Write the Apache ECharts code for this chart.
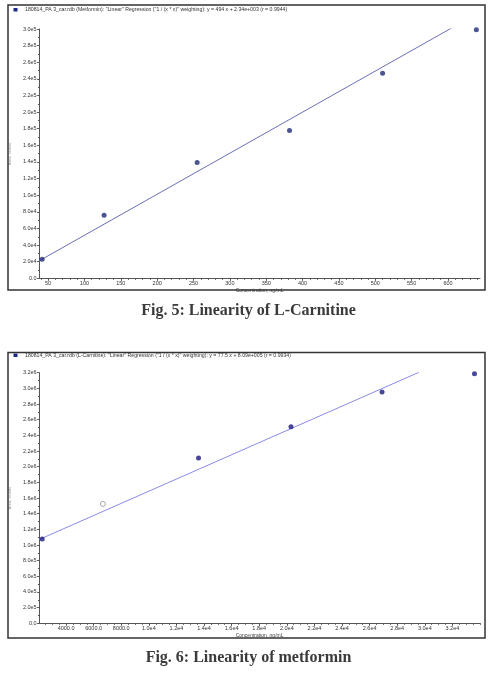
<!DOCTYPE html>
<html>
<head>
<meta charset="utf-8">
<script src="https://cdn.jsdelivr.net/npm/echarts@6/dist/echarts.min.js"></script>
<style>
html,body{margin:0;padding:0;background:#fff;}
#c{width:491px;height:675px;}
</style>
</head>
<body>
<div id="c"></div>
<script>
// ---- data: Fig. 5 (L-Carnitine) ----
var carnConc = [41.8, 127, 255, 382, 510, 639];
var carnArea = [23000, 76000, 139500, 178000, 246700, 299000];
var carnLineX = [37.7, 605.5];
var carnLineY = [21000, 301500];
var carnXTicks = [50, 100, 150, 200, 250, 300, 350, 400, 450, 500, 550, 600];

// ---- data: Fig. 6 (metformin) ----
var metConc = [2270, 6670, 13600, 20300, 26900, 33600];
var metArea = [1077000, 1524000, 2110000, 2510000, 2954000, 3188000];
var metExcluded = [false, true, false, false, false, false];
var metLineX = [2050, 29570];
var metLineY = [1070000, 3205000];
var metXTicks = [4000, 6000, 8000, 10000, 12000, 14000, 16000, 18000, 20000, 22000, 24000, 26000, 28000, 30000, 32000];

var header1 = '180814_PA 3_car.rdb (Metformin): "Linear" Regression ("1 / (x * x)" weighting): y = 494 x + 2.34e+003 (r = 0.9944)';
var header2 = '180814_PA 3_car.rdb (L-Carnitine): "Linear" Regression ("1 / (x * x)" weighting): y = 77.5 x + 8.09e+005 (r = 0.9934)';
var caption1 = 'Fig. 5: Linearity of L-Carnitine';
var caption2 = 'Fig. 6: Linearity of metformin';

function sci(v){
  if (v === 0) return '0.0';
  var e = Math.floor(Math.log10(Math.abs(v)) + 1e-9);
  var m = v / Math.pow(10, e);
  return m.toFixed(1) + 'e' + e;
}
function minorTicks(a, b, step){
  var out = [];
  for (var v = Math.ceil(a/step)*step; v <= b; v += step) out.push(v);
  return out;
}

var axisCol = '#555';
var labelStyle = {fontSize: 5.5, color: '#333', fontFamily: 'Liberation Sans, Arial'};

var chart = echarts.init(document.getElementById('c'), null, {renderer: 'canvas'});

var carnMin = 37.7, carnMax = 644;
var metMin = 2050, metMax = 34000;

var option = {
  animation: false,
  backgroundColor: '#fff',
  grid: [
    {left: 38, top: 29, width: 442, height: 249.3},
    {left: 38, top: 372.7, width: 442, height: 250.6}
  ],
  xAxis: [
    {
      type: 'value', gridIndex: 0, min: carnMin, max: carnMax,
      name: 'Concentration, ng/mL', nameLocation: 'middle', nameGap: 7,
      nameTextStyle: {fontSize: 5, color: '#444'},
      axisLine: {show: true, lineStyle: {color: axisCol, width: 1}},
      axisTick: {show: true, inside: false, length: 2.5, customValues: carnXTicks, lineStyle: {color: axisCol}},
      axisLabel: Object.assign({margin: 2.5, customValues: carnXTicks, formatter: function(v){return String(v);}}, labelStyle),
      splitLine: {show: false}
    },
    {
      type: 'value', gridIndex: 0, min: carnMin, max: carnMax, position: 'bottom',
      axisLine: {show: false},
      axisTick: {show: true, length: 1.5, customValues: minorTicks(carnMin, carnMax, 10), lineStyle: {color: axisCol}},
      axisLabel: {show: false}, splitLine: {show: false}
    },
    {
      type: 'value', gridIndex: 1, min: metMin, max: metMax,
      name: 'Concentration, ng/mL', nameLocation: 'middle', nameGap: 7,
      nameTextStyle: {fontSize: 5, color: '#444'},
      axisLine: {show: true, lineStyle: {color: axisCol, width: 1}},
      axisTick: {show: true, inside: false, length: 2.5, customValues: metXTicks, lineStyle: {color: axisCol}},
      axisLabel: Object.assign({margin: 2.5, customValues: metXTicks, formatter: function(v){return v < 10000 ? v.toFixed(1) : sci(v);}}, labelStyle),
      splitLine: {show: false}
    },
    {
      type: 'value', gridIndex: 1, min: metMin, max: metMax, position: 'bottom',
      axisLine: {show: false},
      axisTick: {show: true, length: 1.5, customValues: minorTicks(metMin, metMax, 500), lineStyle: {color: axisCol}},
      axisLabel: {show: false}, splitLine: {show: false}
    }
  ],
  yAxis: [
    {
      type: 'value', gridIndex: 0, min: 0, max: 300000, interval: 20000,
      name: 'Area, counts', nameLocation: 'middle', nameGap: 25, nameRotate: 90,
      nameTextStyle: {fontSize: 4, color: '#999'},
      axisLine: {show: true, lineStyle: {color: axisCol, width: 1}},
      axisTick: {show: true, length: 2, lineStyle: {color: axisCol}},
      minorTick: {show: true, splitNumber: 2, length: 1.2, lineStyle: {color: axisCol}},
      axisLabel: Object.assign({margin: 2.5, formatter: sci}, labelStyle),
      splitLine: {show: false}
    },
    {
      type: 'value', gridIndex: 1, min: 0, max: 3200000, interval: 200000,
      name: 'Area, counts', nameLocation: 'middle', nameGap: 25, nameRotate: 90,
      nameTextStyle: {fontSize: 4, color: '#999'},
      axisLine: {show: true, lineStyle: {color: axisCol, width: 1}},
      axisTick: {show: true, length: 2, lineStyle: {color: axisCol}},
      minorTick: {show: true, splitNumber: 2, length: 1.2, lineStyle: {color: axisCol}},
      axisLabel: Object.assign({margin: 2.5, formatter: sci}, labelStyle),
      splitLine: {show: false}
    }
  ],
  series: [
    {
      type: 'line', xAxisIndex: 0, yAxisIndex: 0, symbol: 'none',
      data: carnLineX.map(function(x, i){return [x, carnLineY[i]];}),
      lineStyle: {color: '#6a6fb5', width: 1}, silent: true, z: 2
    },
    {
      type: 'scatter', xAxisIndex: 0, yAxisIndex: 0, symbolSize: 5,
      data: carnConc.map(function(x, i){return [x, carnArea[i]];}),
      itemStyle: {color: '#1f2a78'}, z: 3
    },
    {
      type: 'line', xAxisIndex: 2, yAxisIndex: 1, symbol: 'none',
      data: metLineX.map(function(x, i){return [x, metLineY[i]];}),
      lineStyle: {color: '#8a8ae8', width: 1}, silent: true, z: 2
    },
    {
      type: 'scatter', xAxisIndex: 2, yAxisIndex: 1, symbolSize: 5,
      data: metConc.map(function(x, i){
        return metExcluded[i]
          ? {value: [x, metArea[i]], itemStyle: {color: '#fff', borderColor: '#777', borderWidth: 0.8}}
          : {value: [x, metArea[i]], itemStyle: {color: '#1a1a80'}};
      }),
      z: 3
    }
  ],
  graphic: [
    {type: 'rect', shape: {x: 8, y: 5, width: 477, height: 285}, style: {fill: 'none', stroke: '#333', lineWidth: 1.5}, z: 10},
    {type: 'rect', shape: {x: 13.5, y: 8, width: 4, height: 3.5}, style: {fill: '#1b2a8a'}, z: 10},
    {type: 'text', x: 25, y: 9.8, style: {text: header1, fontSize: 5.2, fill: '#333', fontFamily: 'Liberation Sans, Arial', textVerticalAlign: 'middle'}, z: 10},
    {type: 'text', x: 248.5, y: 311, style: {text: caption1, fontSize: 16, fontWeight: 'bold', fill: '#3a3a3a', fontFamily: 'Liberation Serif, serif', textAlign: 'center', textVerticalAlign: 'middle'}, z: 10},

    {type: 'rect', shape: {x: 8, y: 352.5, width: 477, height: 285.5}, style: {fill: 'none', stroke: '#333', lineWidth: 1.5}, z: 10},
    {type: 'rect', shape: {x: 13.5, y: 353.5, width: 4, height: 3.5}, style: {fill: '#1b2a8a'}, z: 10},
    {type: 'text', x: 25, y: 355.5, style: {text: header2, fontSize: 5.2, fill: '#333', fontFamily: 'Liberation Sans, Arial', textVerticalAlign: 'middle'}, z: 10},
    {type: 'text', x: 248.5, y: 658, style: {text: caption2, fontSize: 16, fontWeight: 'bold', fill: '#3a3a3a', fontFamily: 'Liberation Serif, serif', textAlign: 'center', textVerticalAlign: 'middle'}, z: 10}
  ]
};
chart.setOption(option);
</script>
</body>
</html>
